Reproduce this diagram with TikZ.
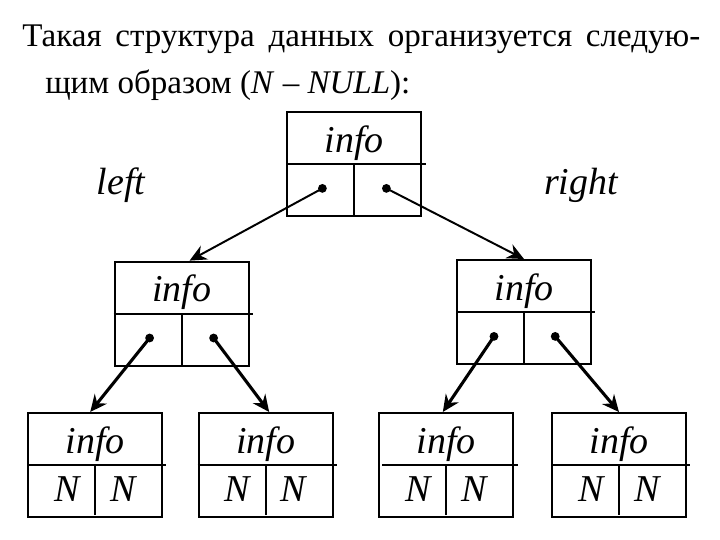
\documentclass[tikz,border=0pt]{standalone}
\usepackage{fontspec}
\setmainfont{Liberation Serif}
\usetikzlibrary{arrows.meta, positioning, calc}

\begin{document}
\begin{tikzpicture}[x=1cm, y=1cm,
  box/.style={draw, line width=1.4pt, minimum width=\boxwidth, minimum height=\boxheight, inner sep=0pt},
  ptr/.style={circle, fill, inner sep=0pt, minimum size=0.22cm},
  lbl/.style={font=\fontsize{27}{32}\selectfont\itshape, inner sep=0pt},
  link/.style={-{Stealth[length=12pt, width=11pt, inset=4pt]}, line width=2.2pt}]

% Uniform box size
\def\boxwidth{3.35cm}
\def\boxheight{2.6cm}

\useasboundingbox (0,0) rectangle (18,13.5);

% Heading
\node[anchor=base west, inner sep=0pt, font=\fontsize{23.5}{28}\selectfont] (head1) at (0.55,12.325)
  {\makebox[16.95cm][s]{Такая структура данных организуется следую-}};
\node[anchor=base west, inner sep=0pt, font=\fontsize{23.5}{28}\selectfont] (head2) at (1.125,11.15)
  {щим образом (\textit{N} – \textit{NULL}):};

% Tree nodes
\node[box] (root) at (8.86,9.4) {};
\node[box] (lm)   at (4.54,5.66) {};
\node[box] (rm)   at (13.1,5.7) {};
\node[box] (lf1)  at (2.375,1.875) {};
\node[box] (lf2)  at (6.64,1.875) {};
\node[box] (lf3)  at (11.16,1.875) {};
\node[box] (lf4)  at (15.475,1.875) {};

% Dividers
\draw[line width=1.4pt] (root.west) -- ($(root.east)+(0.08,0)$);
\draw[line width=1.4pt] (root.center) -- (root.south);
\draw[line width=1.4pt] (lm.west) -- ($(lm.east)+(0.08,0)$);
\draw[line width=1.4pt] (lm.center) -- (lm.south);
\draw[line width=1.4pt] (rm.west) -- ($(rm.east)+(0.08,0)$);
\draw[line width=1.4pt] (rm.center) -- (rm.south);
\draw[line width=1.4pt] (lf1.west) -- ($(lf1.east)+(0.08,0)$);
\draw[line width=1.4pt] (lf1.center) -- ($(lf1.south)+(0,0.08)$);
\draw[line width=1.4pt] (lf2.west) -- ($(lf2.east)+(0.08,0)$);
\draw[line width=1.4pt] (lf2.center) -- ($(lf2.south)+(0,0.08)$);
\draw[line width=1.4pt] ($(lf3.west)+(0.1,0)$) -- ($(lf3.east)+(0.08,0)$);
\draw[line width=1.4pt] (lf3.center) -- ($(lf3.south)+(0,0.08)$);
\draw[line width=1.4pt] (lf4.west) -- ($(lf4.east)+(0.08,0)$);
\draw[line width=1.4pt] (lf4.center) -- ($(lf4.south)+(0,0.08)$);

% info fields
\node[lbl] (rootinfo) at ($(root.north)!0.6!(root.center)$) {info};
\node[lbl] (lminfo)   at ($(lm.north)!0.6!(lm.center)$) {info};
\node[lbl] (rminfo)   at ($(rm.north)!0.6!(rm.center)$) {info};
\node[lbl] (lf1info)  at ($(lf1.north)!0.6!(lf1.center)$) {info};
\node[lbl] (lf2info)  at ($(lf2.north)!0.6!(lf2.center)$) {info};
\node[lbl] (lf3info)  at ($(lf3.north)!0.6!(lf3.center)$) {info};
\node[lbl] (lf4info)  at ($(lf4.north)!0.6!(lf4.center)$) {info};

% NULL pointers
\node[lbl] (lf1n1) at ($(lf1.center)+(-0.7,-0.6)$) {N};
\node[lbl] (lf1n2) at ($(lf1.center)+(0.7,-0.6)$) {N};
\node[lbl] (lf2n1) at ($(lf2.center)+(-0.7,-0.6)$) {N};
\node[lbl] (lf2n2) at ($(lf2.center)+(0.7,-0.6)$) {N};
\node[lbl] (lf3n1) at ($(lf3.center)+(-0.7,-0.6)$) {N};
\node[lbl] (lf3n2) at ($(lf3.center)+(0.7,-0.6)$) {N};
\node[lbl] (lf4n1) at ($(lf4.center)+(-0.7,-0.6)$) {N};
\node[lbl] (lf4n2) at ($(lf4.center)+(0.7,-0.6)$) {N};

% Pointer dots
\node[ptr] (rootl) at ($(root.center)+(-0.8,-0.61)$) {};
\node[ptr] (rootr) at ($(root.center)+(0.8,-0.61)$) {};
\node[ptr] (lml)   at ($(lm.center)+(-0.8,-0.61)$) {};
\node[ptr] (lmr)   at ($(lm.center)+(0.8,-0.61)$) {};
\node[ptr] (rml)   at ($(rm.center)+(-0.75,-0.61)$) {};
\node[ptr] (rmr)   at ($(rm.center)+(0.78,-0.61)$) {};

% Links
\draw[link, line width=1.4pt] (rootl.center) -- ($(lm.north)+(0.2,0)$);
\draw[link, line width=1.4pt] (rootr.center) -- (rm.north);
\draw[link] (lml.center) -- ($(lf1.north)+(-0.12,0)$);
\draw[link] (lmr.center) -- ($(lf2.north)+(0.09,0)$);
\draw[link] (rml.center) -- ($(lf3.north)+(-0.09,0)$);
\draw[link] (rmr.center) -- (lf4.north);

% Side labels
\node[lbl] (leftlbl)  at (3.025,8.875) {left};
\node[lbl] (rightlbl) at (14.525,8.875) {right};

\end{tikzpicture}
\end{document}
